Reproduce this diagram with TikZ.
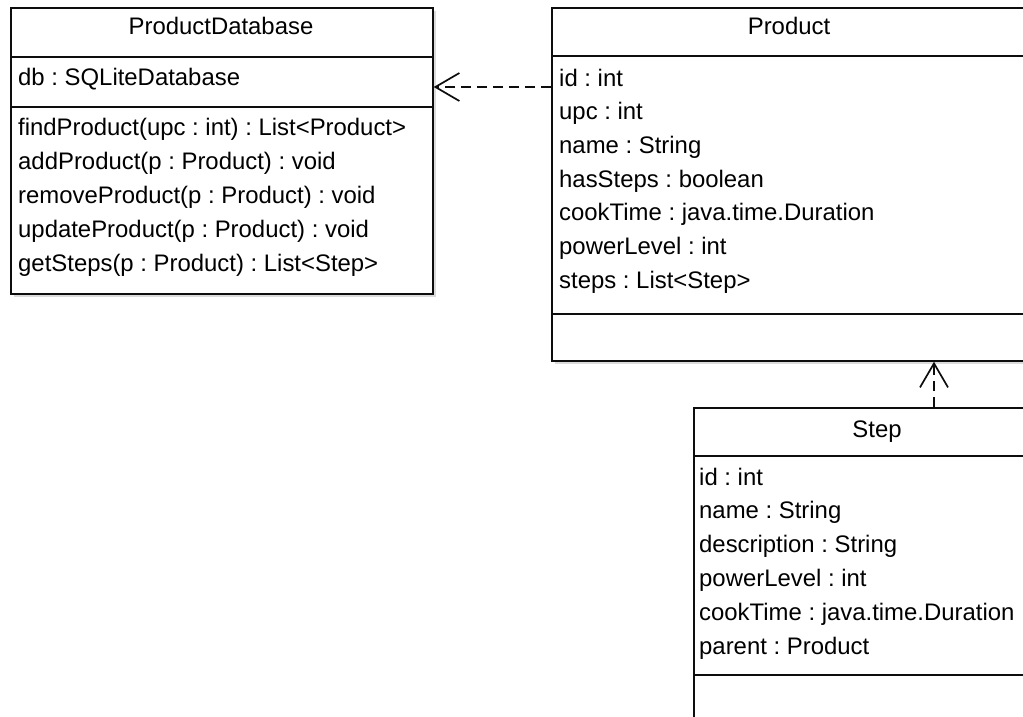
\documentclass[tikz,border=0pt]{standalone}
\usepackage{fontspec}
\setmainfont{Liberation Sans}
\frenchspacing
\usetikzlibrary{arrows.meta,calc,shadows}
\begin{document}
\begin{tikzpicture}[x=1pt,y=-1pt,
  umlfont/.style={font=\fontsize{23.9}{28}\selectfont},
  box/.style={draw=black!95, line width=1.7pt, fill=white, inner sep=0pt,
    anchor=north west, drop shadow={shadow xshift=3.5pt, shadow yshift=-3.5pt, fill=black!28}},
  title/.style={umlfont, anchor=base, inner sep=0pt, text=black},
  member/.style={umlfont, anchor=base west, inner sep=0pt, text=black},
  sep/.style={line width=1.7pt, draw=black!95},
  dep/.style={line width=1.7pt, draw=black!95, dash pattern=on 10pt off 6pt,
    -{Straight Barb[length=24pt,width=28pt,line width=1.7pt]}}
]
\useasboundingbox (0,0) rectangle (1023,717);
\clip (0,0) rectangle (1023,717);

% ProductDatabase
\node[box, minimum width=422pt, minimum height=286pt] (pdb) at (10,7) {};
\draw[sep] ($(pdb.north west)+(0,50)$) -- ($(pdb.north east)+(0,50)$);
\draw[sep] ($(pdb.north west)+(0,100)$) -- ($(pdb.north east)+(0,100)$);
\node[title] (pdbname) at (221,35) {ProductDatabase};
\node[member] (pdbdb) at (18,85) {db : SQLiteDatabase};
\node[member] (pdbm1) at (18,135) {findProduct(upc : int) : List<Product>};
\node[member] (pdbm2) at (18,169) {addProduct(p : Product) : void};
\node[member] (pdbm3) at (18,203) {removeProduct(p : Product) : void};
\node[member] (pdbm4) at (18,237) {updateProduct(p : Product) : void};
\node[member] (pdbm5) at (18,271) {getSteps(p : Product) : List<Step>};

% Product
\node[box, minimum width=476pt, minimum height=353pt] (prod) at (551,7) {};
\draw[sep] ($(prod.north west)+(0,49)$) -- ($(prod.north east)+(0,49)$);
\draw[sep] ($(prod.north west)+(0,307)$) -- ($(prod.north east)+(0,307)$);
\node[title] (prodname) at (789,35) {Product};
\node[member] (proda1) at (559,86) {id : int};
\node[member] (proda2) at (559,119.7) {upc : int};
\node[member] (proda3) at (559,153.4) {name : String};
\node[member] (proda4) at (559,187.1) {hasSteps : boolean};
\node[member] (proda5) at (559,220.8) {cookTime : java.time.Duration};
\node[member] (proda6) at (559,254.5) {powerLevel : int};
\node[member] (proda7) at (559,288.2) {steps : List<Step>};

% Step
\node[box, minimum width=368pt, minimum height=360pt] (step) at (693,407) {};
\draw[sep] ($(step.north west)+(0,49)$) -- ($(step.north east)+(0,49)$);
\draw[sep] ($(step.north west)+(0,268)$) -- ($(step.north east)+(0,268)$);
\node[title] (stepname) at (877,437) {Step};
\node[member] (stepa1) at (699,485) {id : int};
\node[member] (stepa2) at (699,518.8) {name : String};
\node[member] (stepa3) at (699,552.6) {description : String};
\node[member] (stepa4) at (699,586.4) {powerLevel : int};
\node[member] (stepa5) at (699,620.2) {cookTime : java.time.Duration};
\node[member] (stepa6) at (699,654) {parent : Product};

% dependencies
\coordinate (prodout) at ($(prod.north west)+(0,80)$);
\coordinate (pdbin) at ($(pdb.north east)+(0,80)$);
\draw[dep] (prodout) -- (pdbin);
\coordinate (stepout) at ($(step.north west)+(241,0)$);
\coordinate (prodin) at ($(prod.south west)+(383,0)$);
\draw[dep] (stepout) -- (prodin);
\end{tikzpicture}
\end{document}
